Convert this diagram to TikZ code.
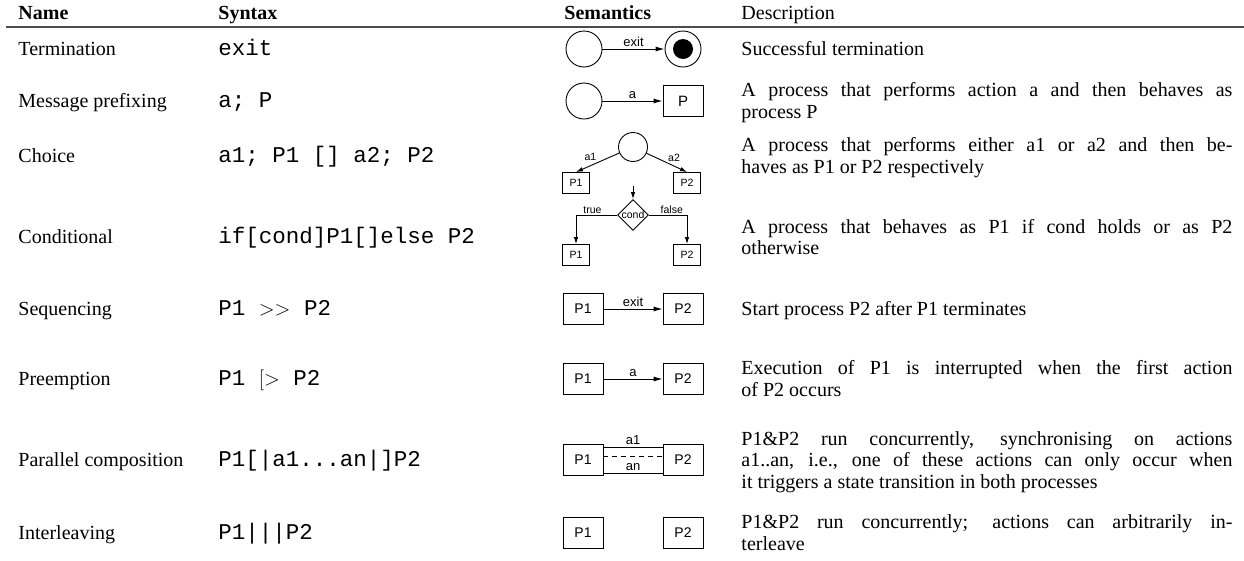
\documentclass[tikz,border=0pt]{standalone}
\usepackage{fontspec}
\setmainfont{Liberation Serif}
\setsansfont{Liberation Sans}
\setmonofont{Liberation Mono}
\usetikzlibrary{shapes.geometric, arrows.meta}
\tolerance=9999
\hbadness=10000

\tikzset{
	cell/.style = {anchor = base west, inner sep = 0pt, font = \fontsize{20}{22}\selectfont},
	head/.style = {cell, font = \fontsize{20}{22}\selectfont\bfseries},
	code/.style = {anchor = base west, inner sep = 0pt, font = \fontsize{22.5}{24}\selectfont\ttfamily},
	desc/.style = {anchor = base west, inner sep = 0pt, text width = 491pt, align = justify, font = \fontsize{20}{21.5}\selectfont},
	state/.style = {draw, circle, minimum size = 36pt, inner sep = 0pt},
	smallstate/.style = {draw, circle, minimum size = 29pt, inner sep = 0pt},
	decision/.style = {draw, diamond, minimum width = 31pt, minimum height = 31pt, inner sep = 0pt},
	proc/.style = {draw, minimum width = 40pt, minimum height = 31pt, inner sep = 0pt, font = \sffamily\fontsize{14}{16}\selectfont},
	smallproc/.style = {draw, minimum width = 27pt, minimum height = 21pt, inner sep = 0pt, font = \sffamily\fontsize{10.5}{12}\selectfont},
	lbl/.style = {inner sep = 1.5pt, font = \sffamily\fontsize{13}{15}\selectfont},
	smalllbl/.style = {inner sep = 1pt, font = \sffamily\fontsize{10.5}{12}\selectfont},
	trans/.style = {-{Latex[length = 9pt, width = 5pt]}},
	smalltrans/.style = {-{Latex[length = 7pt, width = 4.5pt]}}
}

\begin{document}
\begin{tikzpicture}[x = 1pt, y = -1pt, line width = 0.9pt]
	\def\xNAME{18};
	\def\xSYN{218};
	\def\xDESC{741};

	\useasboundingbox (0,0) rectangle (1244,560);

	\begin{scope}
		\node[head] (hname) at (\xNAME,19) {Name};
		\node[head] (hsyn) at (\xSYN,19) {Syntax};
		\node[head] (hsem) at (564,19) {Semantics};
		\node[cell] (hdesc) at (\xDESC,19) {Description};
		\draw[line width = 1.2pt, black!70] (6,27) -- (1244,27);
	\end{scope}

	\begin{scope}
		\node[cell] (name1) at (\xNAME,55.5) {Termination};
		\node[code] (syn1) at (\xSYN,55.5) {exit};
		\node[state] (sem1a) at (584,49) {};
		\node[state] (sem1b) at (683,49) {};
		\fill (sem1b.center) circle (10);
		\draw[trans] (sem1a) -- node[lbl, above] {exit} (sem1b);
		\node[desc] (desc1) at (\xDESC,55.5) {Successful termination};
	\end{scope}

	\begin{scope}
		\node[cell] (name2) at (\xNAME,107.5) {Message prefixing};
		\node[code] (syn2) at (\xSYN,107.5) {a; P};
		\node[state] (sem2a) at (584,101) {};
		\node[proc, font = \sffamily\fontsize{15}{17}\selectfont] (sem2b) at (683,101) {P};
		\draw[trans] (sem2a) -- node[lbl, above] {a} (sem2b);
		\node[desc] (desc2) at (\xDESC,96.75) {A process that performs action a and then behaves as\linebreak process P};
	\end{scope}

	\begin{scope}
		\node[cell] (name3) at (\xNAME,162.5) {Choice};
		\node[code] (syn3) at (\xSYN,162.5) {a1; P1 [] a2; P2};
		\node[smallstate] (sem3) at (633,147) {};
		\node[smallproc] (sem3a) at (576,183) {P1};
		\node[smallproc] (sem3b) at (687,183) {P2};
		\draw[smalltrans] (sem3) -- node[smalllbl, above left] {a1} (sem3a.north);
		\draw[smalltrans] (sem3) -- node[smalllbl, above right] {a2} (sem3b.north);
		\node[desc] (desc3) at (\xDESC,151.75) {A process that performs either a1 or a2 and then be-\linebreak haves as P1 or P2 respectively};
	\end{scope}

	\begin{scope}
		\node[cell] (name4) at (\xNAME,243.5) {Conditional};
		\node[code] (syn4) at (\xSYN,243.5) {if[cond]P1[]else P2};
		\coordinate (sem4in) at (633,186);
		\node[decision] (sem4) at (633,215) {};
		\node[smalllbl] (sem4cond) at (sem4) {cond};
		\node[smallproc] (sem4a) at (576,255) {P1};
		\node[smallproc] (sem4b) at (687,255) {P2};
		\draw[smalltrans] (sem4in) -- (sem4.north);
		\draw[smalltrans] (sem4.west) -| node[smalllbl, above, pos = 0.3] {true} (sem4a.north);
		\draw[smalltrans] (sem4.east) -| node[smalllbl, above, pos = 0.3] {false} (sem4b.north);
		\node[desc] (desc4) at (\xDESC,233) {A process that behaves as P1 if cond holds or as P2\linebreak otherwise};
	\end{scope}

	\begin{scope}
		\node[cell] (name5) at (\xNAME,315.5) {Sequencing};
		\node[code] (syn5) at (\xSYN,315.5) {P1 $>>$ P2};
		\node[proc] (sem5a) at (583,309) {P1};
		\node[proc] (sem5b) at (683,309) {P2};
		\draw[trans] (sem5a) -- node[lbl, above] {exit} (sem5b);
		\node[desc] (desc5) at (\xDESC,315.5) {Start process P2 after P1 terminates};
	\end{scope}

	\begin{scope}
		\node[cell] (name6) at (\xNAME,385.5) {Preemption};
		\node[code] (syn6) at (\xSYN,385.5) {P1 $[>$ P2};
		\node[proc] (sem6a) at (583,379) {P1};
		\node[proc] (sem6b) at (683,379) {P2};
		\draw[trans] (sem6a) -- node[lbl, above] {a} (sem6b);
		\node[desc] (desc6) at (\xDESC,374.75) {Execution of P1 is interrupted when the first action\linebreak of P2 occurs};
	\end{scope}

	\begin{scope}
		\node[cell] (name7) at (\xNAME,466.5) {Parallel composition};
		\node[code] (syn7) at (\xSYN,466.5) {P1[|a1...an|]P2};
		\node[proc] (sem7a) at (583,460) {P1};
		\node[proc] (sem7b) at (683,460) {P2};
		\draw ([yshift = -3pt]sem7a.north east) -- node[lbl, above] {a1} ([yshift = -3pt]sem7b.north west);
		\draw[dashed, dash pattern = on 5pt off 4pt] ([yshift = -12pt]sem7a.north east) -- ([yshift = -12pt]sem7b.north west);
		\draw ([yshift = 3pt]sem7a.south east) -- node[lbl, above] {an} ([yshift = 3pt]sem7b.south west);
		\node[desc] (desc7) at (\xDESC,445) {P1\&P2 run concurrently, synchronising on actions\linebreak a1..an, i.e., one of these actions can only occur when\linebreak it triggers a state transition in both processes};
	\end{scope}

	\begin{scope}
		\node[cell] (name8) at (\xNAME,539.5) {Interleaving};
		\node[code] (syn8) at (\xSYN,539.5) {P1|||P2};
		\node[proc] (sem8a) at (583,533) {P1};
		\node[proc] (sem8b) at (683,533) {P2};
		\node[desc] (desc8) at (\xDESC,528.75) {P1\&P2 run concurrently; actions can arbitrarily in-\linebreak terleave};
	\end{scope}
\end{tikzpicture}
\end{document}
